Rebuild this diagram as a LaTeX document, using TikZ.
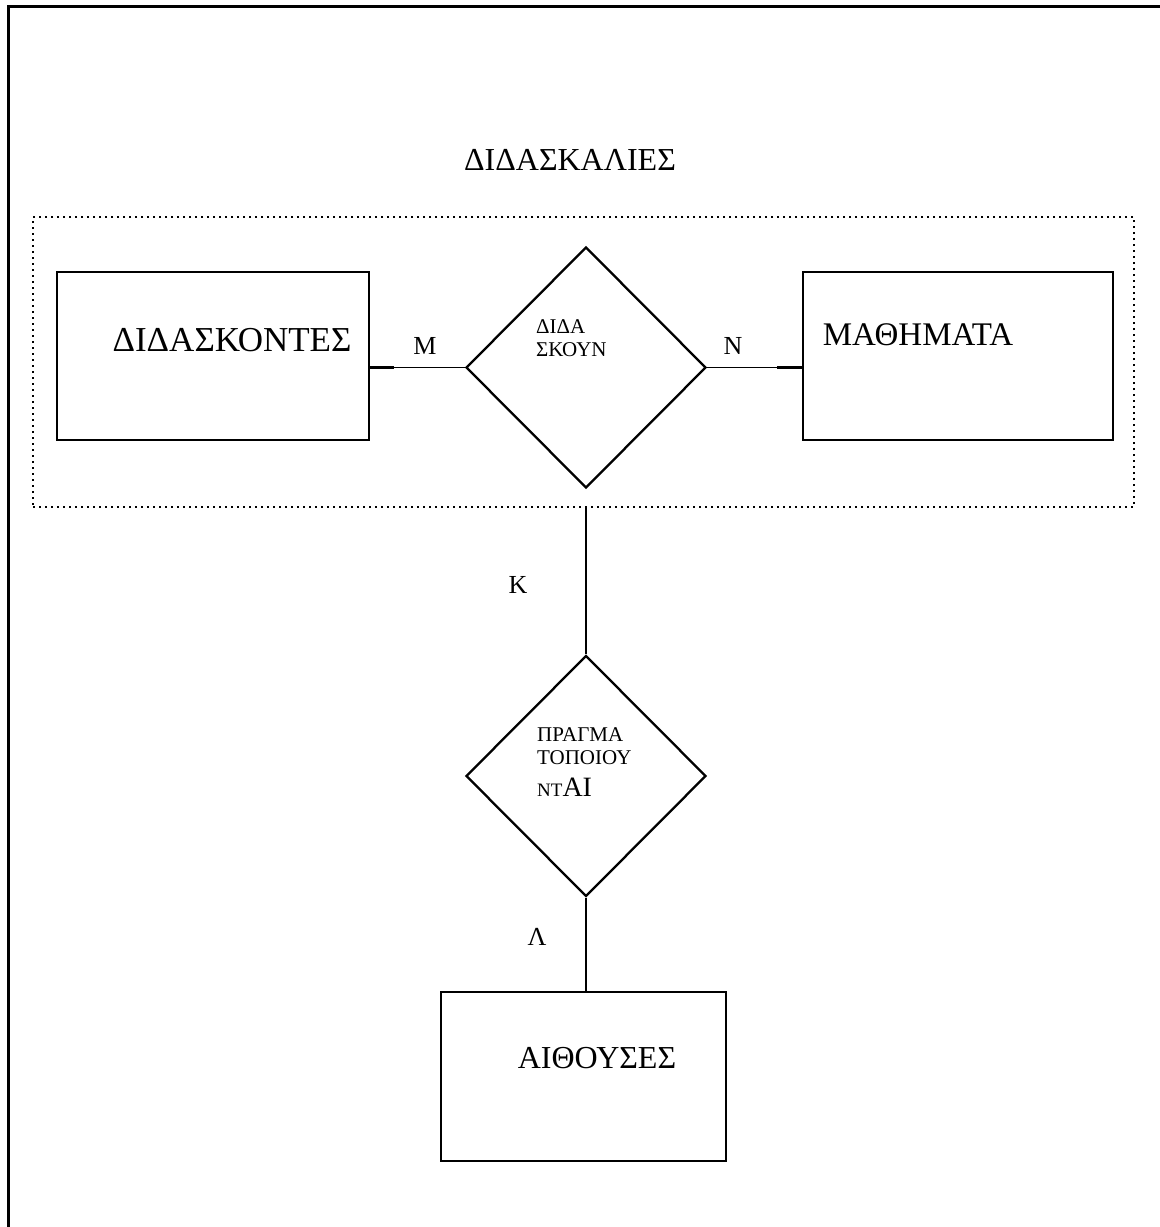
\documentclass[tikz,border=0pt]{standalone}
\usepackage{fontspec}
\setmainfont{Liberation Serif}
\usetikzlibrary{shapes.geometric}
\begin{document}
\begin{tikzpicture}[x=1pt,y=-1pt,
  entity/.style={draw,line width=2.7pt,inner sep=0pt,rectangle},
  relation/.style={draw,line width=2.3pt,inner sep=0pt,diamond,aspect=1,
    minimum width=240pt,minimum height=241pt},
  aggbox/.style={draw,line width=1.8pt,dash pattern=on 1.8pt off 4.2pt,
    inner sep=0pt,rectangle},
  conn/.style={line width=1.4pt},
  stub/.style={line width=2.6pt},
  bigtxt/.style={inner sep=0pt,font=\fontsize{32}{36}\selectfont},
  card/.style={inner sep=0pt,font=\fontsize{26}{30}\selectfont},
  smalltxt/.style={inner sep=0pt,anchor=west,font=\fontsize{21}{24}\selectfont}]
\useasboundingbox (0,0) rectangle (1160,1227);

% page frame (top and left edges)
\coordinate (frameBL) at (8,1227);
\coordinate (frameTL) at (8,6);
\coordinate (frameTR) at (1160,6);
\draw[line width=3pt] (frameBL) -- (frameTL) -- (frameTR);

% aggregation box
\node[aggbox,minimum width=1101pt,minimum height=290pt] (agg) at (583.5,362) {};
\node[bigtxt] (aggname) at (570,160) {ΔΙΔΑΣΚΑΛΙΕΣ};

% entities
\node[entity,minimum width=312pt,minimum height=168pt] (teachers) at (213,356) {};
\node[bigtxt,font=\fontsize{35}{40}\selectfont] (teacherslbl) at (232,340) {ΔΙΔΑΣΚΟΝΤΕΣ};
\node[entity,minimum width=310pt,minimum height=168pt] (courses) at (958,356) {};
\node[bigtxt,font=\fontsize{33}{38}\selectfont] (courseslbl) at (918,335) {ΜΑΘΗΜΑΤΑ};
\node[entity,minimum width=285pt,minimum height=169pt] (rooms) at (583.5,1076.5) {};
\node[bigtxt] (roomslbl) at (597,1058) {ΑΙΘΟΥΣΕΣ};

% relationships
\node[relation] (teach) at (586,367.5) {};
\node[smalltxt] (teachA) at (536,327) {ΔΙΔΑ};
\node[smalltxt] (teachB) at (536,350) {ΣΚΟΥΝ};

\node[relation] (held) at (586,776) {};
\node[smalltxt] (heldA) at (537,735) {ΠΡΑΓΜΑ};
\node[smalltxt] (heldB) at (537,758) {ΤΟΠΟΙΟΥ};
\node[smalltxt] (heldC) at (537,787) {{\fontsize{19}{22}\selectfont ΝΤ}{\fontsize{28}{31}\selectfont ΑΙ}};

% connectors
\draw[conn] (teach.west -| teachers.east) -- (teach.west);
\draw[stub] (teach.west -| teachers.east) -- ++(24,0);
\draw[conn] (teach.east) -- (teach.east -| courses.west);
\draw[stub] (teach.east -| courses.west) -- ++(-25,0);
\draw[conn] (held.north |- agg.south) -- (held.north);
\draw[conn] (held.south) -- (held.south |- rooms.north);

% cardinalities
\node[card] (cM) at (425,346) {Μ};
\node[card] (cN) at (733,346) {Ν};
\node[card] (cK) at (518,585) {Κ};
\node[card] (cL) at (537,937) {Λ};
\end{tikzpicture}
\end{document}
